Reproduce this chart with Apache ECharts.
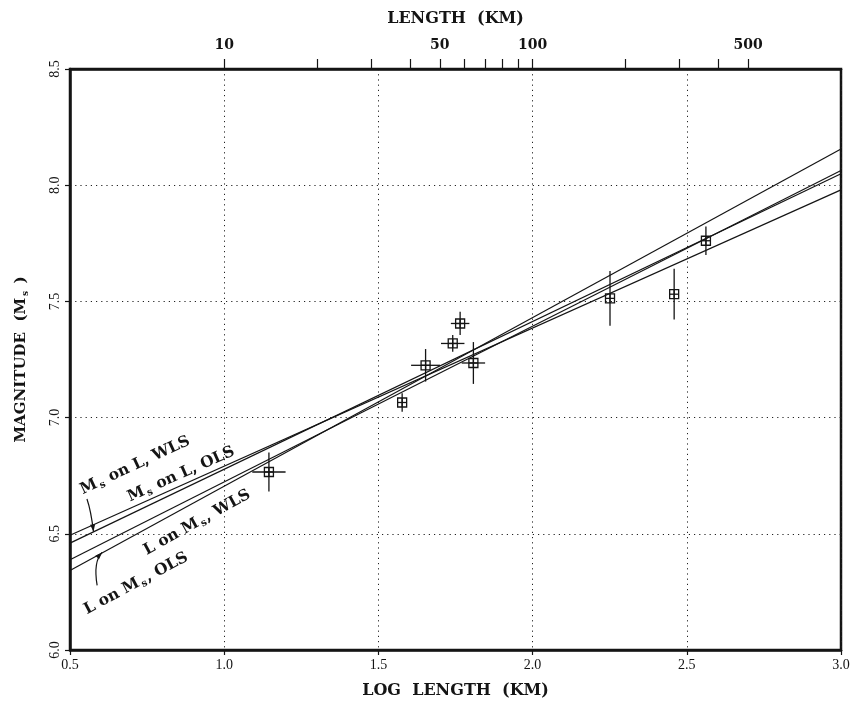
<!DOCTYPE html>
<html>
<head>
<meta charset="utf-8">
<script src="https://cdn.jsdelivr.net/npm/echarts@6/dist/echarts.min.js"></script>
<style>
  html, body { margin: 0; padding: 0; background: #fff; }
  #chart { width: 856px; height: 714px; }
</style>
</head>
<body>
<div id="chart"></div>
<script>
// Observed faults: log rupture length (km), surface-wave magnitude, and 1-sigma errors
const logLength    = [1.145, 1.577, 1.653, 1.741, 1.765, 1.808, 2.251, 2.459, 2.562];
const magnitude    = [6.766, 7.065, 7.225, 7.319, 7.405, 7.235, 7.513, 7.531, 7.761];
const logLengthErr = [0.054, 0.000, 0.047, 0.038, 0.030, 0.038, 0.000, 0.000, 0.000];
const magnitudeErr = [0.084, 0.040, 0.070, 0.036, 0.050, 0.090, 0.118, 0.109, 0.061];

// Regression lines evaluated at the ends of the plotted range
const fitX      = [0.5, 3.0];
const msOnLWls  = [6.494, 7.980];
const msOnLOls  = [6.460, 8.049];
const lOnMsWls  = [6.388, 8.063];
const lOnMsOls  = [6.342, 8.156];

// Upper axis: rupture length in km (ticks and labelled values)
const lengthTicks  = [10, 20, 30, 40, 50, 60, 70, 80, 90, 100, 200, 300, 400, 500];
const lengthLabels = [10, 50, 100, 500];

// Line annotations: [text key, log length, magnitude, angle in degrees]
const lineNotes = [
  ['msWls', 0.711, 6.794, 25],
  ['msOls', 0.860, 6.756, 24],
  ['lWls',  0.912, 6.549, 29],
  ['lOls',  0.714, 6.286, 28]
];
const noteText = {
  msWls: '{b|M}{s|s}{b| on L, WLS}',
  msOls: '{b|M}{s|s}{b| on L, OLS}',
  lWls:  '{b|L on M}{s|s}{b|, WLS}',
  lOls:  '{b|L on M}{s|s}{b|, OLS}'
};
// Pointer arrows: start, control, end (data coordinates)
const arrows = [
  [[0.555, 6.650], [0.568, 6.600], [0.576, 6.510]],
  [[0.588, 6.278], [0.575, 6.380], [0.604, 6.420]]
];

const INK = '#141414';
const SERIF = '"DejaVu Serif", "Liberation Serif", serif';
const TICKFONT = '"Liberation Serif", serif';

const chart = echarts.init(document.getElementById('chart'), null, { renderer: 'canvas' });

function errorBox(params, api) {
  const x = api.value(0), y = api.value(1), xe = api.value(2), ye = api.value(3);
  const c = api.coord([x, y]);
  const xl = api.coord([x - xe, y]), xr = api.coord([x + xe, y]);
  const yt = api.coord([x, y + ye]), yb = api.coord([x, y - ye]);
  const h = 4.5;
  const st = { stroke: INK, lineWidth: 1.3, fill: null };
  return {
    type: 'group',
    children: [
      { type: 'line', shape: { x1: xl[0], y1: c[1], x2: xr[0], y2: c[1] }, style: st },
      { type: 'line', shape: { x1: c[0], y1: yt[1], x2: c[0], y2: yb[1] }, style: st },
      { type: 'line', shape: { x1: c[0] - h, y1: c[1], x2: c[0] + h, y2: c[1] }, style: st },
      { type: 'line', shape: { x1: c[0], y1: c[1] - h, x2: c[0], y2: c[1] + h }, style: st },
      { type: 'rect', shape: { x: c[0] - h, y: c[1] - h, width: 2 * h, height: 2 * h }, style: { stroke: INK, lineWidth: 1.3, fill: 'rgba(255,255,255,0)' } }
    ]
  };
}

function fitSeries(name, values) {
  return {
    name: name,
    type: 'line',
    xAxisIndex: 0,
    yAxisIndex: 0,
    data: fitX.map((x, i) => [x, values[i]]),
    symbol: 'none',
    silent: true,
    lineStyle: { color: INK, width: 1.2 },
    z: 3
  };
}

const option = {
  animation: false,
  backgroundColor: '#fff',
  grid: {
    left: 70, right: 15, top: 69, bottom: 64,
    show: true, borderColor: INK, borderWidth: 2.5, backgroundColor: 'transparent'
  },
  xAxis: [
    {
      type: 'value', position: 'bottom', min: 0.5, max: 3.0, interval: 0.5,
      name: 'LOG  LENGTH  (KM)', nameLocation: 'middle', nameGap: 33,
      nameTextStyle: { fontFamily: SERIF, fontWeight: 'bold', fontSize: 16, color: INK },
      axisLine: { show: true, lineStyle: { color: INK, width: 2.5 } },
      axisTick: { show: true, length: 5, lineStyle: { color: INK, width: 1.2 } },
      axisLabel: { margin: 8, fontFamily: TICKFONT, fontSize: 14, color: INK,
                   formatter: v => v.toFixed(1) },
      splitLine: { show: true, lineStyle: { color: '#222', width: 1, type: [1.2, 4] } }
    },
    {
      type: 'value', position: 'top', min: 0.5, max: 3.0,
      name: 'LENGTH  (KM)', nameLocation: 'middle', nameGap: 42,
      nameTextStyle: { fontFamily: SERIF, fontWeight: 'bold', fontSize: 16, color: INK },
      axisLine: { show: true, lineStyle: { color: INK, width: 2.5 } },
      axisTick: { show: true, length: 10, lineStyle: { color: INK, width: 1.2 },
                  customValues: lengthTicks.map(v => Math.log10(v)) },
      axisLabel: { margin: 17, fontFamily: SERIF, fontWeight: 'bold', fontSize: 14, color: INK,
                   customValues: lengthLabels.map(v => Math.log10(v)),
                   formatter: v => String(Math.round(Math.pow(10, v))) },
      splitLine: { show: false }
    }
  ],
  yAxis: [
    {
      type: 'value', min: 6.0, max: 8.5, interval: 0.5,
      name: '{b|MAGNITUDE  (M}{s|s}{b| )}', nameLocation: 'middle', nameGap: 40,
      nameTextStyle: {
        color: INK,
        rich: {
          b: { fontFamily: SERIF, fontWeight: 'bold', fontSize: 15, color: INK, lineHeight: 18 },
          s: { fontFamily: SERIF, fontWeight: 'bold', fontSize: 9, color: INK, lineHeight: 18, verticalAlign: 'bottom', padding: [0, 2, 0, 2] }
        }
      },
      axisLine: { show: true, lineStyle: { color: INK, width: 2.5 } },
      axisTick: { show: true, length: 5, lineStyle: { color: INK, width: 1.2 } },
      axisLabel: { rotate: 90, margin: 8, fontFamily: TICKFONT, fontSize: 14, color: INK,
                   formatter: v => v.toFixed(1) },
      splitLine: { show: true, lineStyle: { color: '#222', width: 1, type: [1.2, 4] } }
    }
  ],
  series: [
    fitSeries('Ms on L, WLS', msOnLWls),
    fitSeries('Ms on L, OLS', msOnLOls),
    fitSeries('L on Ms, WLS', lOnMsWls),
    fitSeries('L on Ms, OLS', lOnMsOls),
    {
      name: 'faults',
      type: 'custom',
      xAxisIndex: 0,
      yAxisIndex: 0,
      renderItem: errorBox,
      data: logLength.map((x, i) => [x, magnitude[i], logLengthErr[i], magnitudeErr[i]]),
      encode: { x: 0, y: 1 },
      z: 5,
      silent: true
    }
  ]
};

chart.setOption(option);

// Annotations placed through the axis scales
const toPx = p => chart.convertToPixel({ xAxisIndex: 0, yAxisIndex: 0 }, p);
const richNote = {
  b: { fontFamily: SERIF, fontWeight: 'bold', fontSize: 15.5, fill: INK, lineHeight: 18 },
  s: { fontFamily: SERIF, fontWeight: 'bold', fontSize: 10, fill: INK, lineHeight: 18, verticalAlign: 'bottom', padding: [0, 1, 0, 2] }
};
const graphics = [];
lineNotes.forEach(([key, x, y, deg]) => {
  const p = toPx([x, y]);
  graphics.push({
    type: 'text', x: p[0], y: p[1], rotation: deg * Math.PI / 180, z: 10, silent: true,
    style: { text: noteText[key], rich: richNote, align: 'center', verticalAlign: 'middle', fill: INK }
  });
});
arrows.forEach(([a, c, b]) => {
  const p0 = toPx(a), pc = toPx(c), p1 = toPx(b);
  graphics.push({
    type: 'bezierCurve', z: 10, silent: true,
    shape: { x1: p0[0], y1: p0[1], cpx1: pc[0], cpy1: pc[1], x2: p1[0], y2: p1[1] },
    style: { stroke: INK, lineWidth: 1.2, fill: null }
  });
  const ang = Math.atan2(p1[1] - pc[1], p1[0] - pc[0]);
  const L = 7, W = 2.6;
  const bx = p1[0] - L * Math.cos(ang), by = p1[1] - L * Math.sin(ang);
  graphics.push({
    type: 'polygon', z: 10, silent: true,
    shape: { points: [
      [p1[0], p1[1]],
      [bx + W * Math.sin(ang), by - W * Math.cos(ang)],
      [bx - W * Math.sin(ang), by + W * Math.cos(ang)]
    ] },
    style: { fill: INK }
  });
});
chart.setOption({ graphic: graphics });
</script>
</body>
</html>
